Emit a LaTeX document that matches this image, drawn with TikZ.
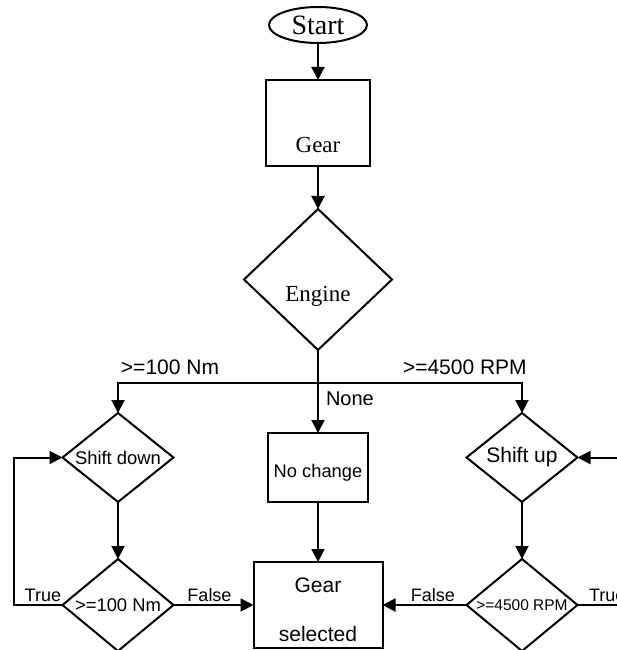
\documentclass[tikz,border=0pt]{standalone}
\usepackage{fontspec}
\setmainfont{Liberation Serif}
\setsansfont{Liberation Sans}
\usetikzlibrary{shapes.geometric, arrows.meta, positioning}

\begin{document}
\begin{tikzpicture}[x=1pt, y=-1pt,
  line width=2pt,
  box/.style={draw, rectangle, inner sep=0pt, outer sep=0pt},
  test/.style={draw, diamond, inner sep=0pt, outer sep=0pt,
               minimum width=111pt, minimum height=89pt},
  serif/.style={font=\rmfamily\fontsize{23}{23}\selectfont, inner sep=0pt},
  lbl/.style={font=\sffamily\fontsize{18}{18}\selectfont, inner sep=0pt},
  arr/.style={-{Triangle[length=13pt, width=13pt]}},
]
  \useasboundingbox (0,0) rectangle (617,650);
  \clip (0,0) rectangle (617,650);

  \node[draw, ellipse, inner sep=0pt, outer sep=0pt, minimum width=98pt, minimum height=36pt,
        font=\rmfamily\fontsize{28}{28}\selectfont] (start) at (318,25) {Start};
  \node[box, minimum width=104pt, minimum height=86pt, below=37pt of start,
        label={[serif, yshift=-22pt]center:Gear}] (gear) {};
  \node[test, minimum width=148pt, minimum height=141pt, below=43pt of gear,
        label={[serif, yshift=-17pt]center:Engine}] (engine) {};
  \node[box, minimum width=100pt, minimum height=69pt, below=83pt of engine,
        label={[lbl, font=\sffamily\fontsize{18.3}{18.3}\selectfont, yshift=-5pt]center:No change}] (nochange) {};
  \node[box, minimum width=129pt, minimum height=86pt, below=60pt of nochange,
        label={[lbl, font=\sffamily\fontsize{21}{21}\selectfont, yshift=20pt]center:Gear},
        label={[lbl, font=\sffamily\fontsize{21}{21}\selectfont, yshift=-29pt]center:selected}] (gearsel) {};
  \node[test, label={[lbl, font=\sffamily\fontsize{18.4}{18.4}\selectfont]center:Shift down}]
    (shiftdown) at (118,457.5) {};
  \node[test, minimum height=92pt, below=57pt of shiftdown,
        label={[lbl, font=\sffamily\fontsize{18.4}{18.4}\selectfont]center:>=100 Nm}] (downcheck) {};
  \node[test, label={[lbl, font=\sffamily\fontsize{21}{21}\selectfont]center:Shift up}]
    (shiftup) at (522,457.5) {};
  \node[test, minimum height=92pt, below=57pt of shiftup,
        label={[lbl, font=\sffamily\fontsize{15.5}{15.5}\selectfont]center:>=4500 RPM}] (upcheck) {};

  \coordinate[below=33pt of engine.south] (fork);
  \coordinate[right=70pt of upcheck.east] (trueout);
  \coordinate[right=70pt of shiftup.east] (upin);

  \draw[arr] (start) -- (gear);
  \draw[arr] (gear) -- (engine);
  \draw[arr] (engine) -- (nochange)
    node[lbl, font=\sffamily\fontsize{20}{20}\selectfont, pos=0.59, right=7pt] {None};
  \draw[arr] (fork) -| (shiftdown)
    node[lbl, font=\sffamily\fontsize{21}{21}\selectfont, pos=0.37, above=7pt] {>=100 Nm};
  \draw[arr] (fork) -| (shiftup)
    node[lbl, font=\sffamily\fontsize{21}{21}\selectfont, pos=0.36, above=7pt] {>=4500 RPM};
  \draw[arr] (shiftdown) -- (downcheck);
  \draw[arr] (shiftup) -- (upcheck);
  \draw[arr] (downcheck.west) -- ++(-49pt,0) node[lbl, pos=0.4, above=2pt] {True}
    |- (shiftdown.west);
  \draw[arr] (downcheck.east) -- (gearsel.west) node[lbl, pos=0.45, above=2pt] {False};
  \draw[arr] (upcheck.west) -- (gearsel.east) node[lbl, pos=0.4, above=2pt] {False};
  \draw (upcheck.east) -- (trueout) node[lbl, pos=0.15, anchor=south west, yshift=2pt] {True};
  \draw[arr] (upin) -- (shiftup.east);
  \draw[arr] (nochange) -- (gearsel);
\end{tikzpicture}
\end{document}
